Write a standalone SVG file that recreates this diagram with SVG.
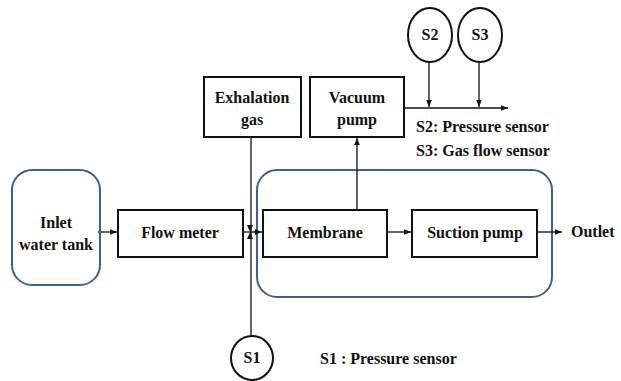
<svg xmlns="http://www.w3.org/2000/svg" width="621" height="381" viewBox="0 0 621 381">
<defs>
<style>
text{font-family:'Liberation Serif','Times New Roman','DejaVu Serif',serif;font-weight:700;font-size:16px;fill:#111}
.box{fill:#fff;stroke:#111;stroke-width:2}
.round{fill:none;stroke:#3f5f8f;stroke-width:2}
.ln{fill:none;stroke:#111;stroke-width:1.3}
.sen{fill:#fff;stroke:#111;stroke-width:2}
</style>
<marker id="ah" viewBox="0 0 10 10" refX="10" refY="5" markerWidth="7" markerHeight="7" orient="auto" markerUnits="userSpaceOnUse"><path d="M0,1 L10,5 L0,9 z" fill="#111"/></marker>
</defs>
<rect width="621" height="381" fill="#fff"/>
<g id="system"><rect class="round" x="257" y="170" width="295" height="127" rx="20"/></g>
<g id="connectors">
<line class="ln" x1="98" y1="232" x2="117" y2="232" marker-end="url(#ah)"/>
<line class="ln" x1="243" y1="232" x2="262" y2="232" marker-end="url(#ah)"/>
<line class="ln" x1="251" y1="137" x2="251" y2="337"/>
<line class="ln" x1="357" y1="210" x2="357" y2="138" marker-end="url(#ah)"/>
<line class="ln" x1="387" y1="232" x2="411" y2="232" marker-end="url(#ah)"/>
<line class="ln" x1="537" y1="232" x2="562" y2="232" marker-end="url(#ah)"/>
<line class="ln" x1="404" y1="108" x2="508" y2="108" marker-end="url(#ah)"/>
<line class="ln" x1="429" y1="62" x2="429" y2="107" marker-end="url(#ah)"/>
<line class="ln" x1="479" y1="62" x2="479" y2="107" marker-end="url(#ah)"/>
<path d="M247,225 L253,225 L250,232 z M247,239 L253,239 L250,232 z" fill="#111"/>
</g>
<g id="inlet"><rect class="round" x="12" y="170" width="88" height="115" rx="20"/>
<text x="56" y="228" text-anchor="middle">Inlet</text><text x="56" y="250" text-anchor="middle">water tank</text></g>
<g id="flowmeter"><rect class="box" x="118" y="210" width="125" height="47"/><text x="180" y="238" text-anchor="middle">Flow meter</text></g>
<g id="exhalation"><rect class="box" x="204" y="77" width="97" height="60"/>
<text x="252" y="103" text-anchor="middle">Exhalation</text><text x="252" y="125" text-anchor="middle">gas</text></g>
<g id="vacuum"><rect class="box" x="310" y="77" width="94" height="60"/>
<text x="357" y="103" text-anchor="middle">Vacuum</text><text x="357" y="125" text-anchor="middle">pump</text></g>
<g id="membrane"><rect class="box" x="263" y="210" width="124" height="47"/><text x="325" y="238" text-anchor="middle">Membrane</text></g>
<g id="suction"><rect class="box" x="412" y="210" width="125" height="47"/><text x="475" y="238" text-anchor="middle">Suction pump</text></g>
<g id="outlet"><text x="571" y="237">Outlet</text></g>
<g id="s1"><ellipse class="sen" cx="252" cy="358" rx="21" ry="22"/><text x="252" y="363" text-anchor="middle" font-size="14">S1</text></g>
<g id="s2"><ellipse class="sen" cx="430" cy="35" rx="22" ry="27"/><text x="430" y="40" text-anchor="middle" font-size="14">S2</text></g>
<g id="s3"><ellipse class="sen" cx="480" cy="35" rx="22" ry="27"/><text x="480" y="40" text-anchor="middle" font-size="14">S3</text></g>
<g id="legend">
<text x="416" y="132">S2: Pressure sensor</text>
<text x="416" y="156">S3: Gas flow sensor</text>
<text x="320" y="364">S1 : Pressure sensor</text>
</g>
</svg>
